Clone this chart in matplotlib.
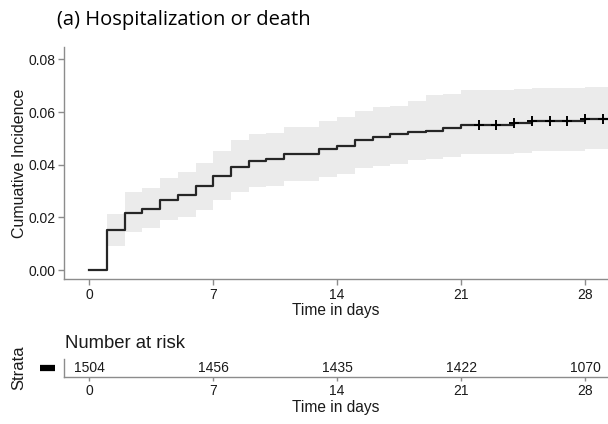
import numpy as np
import matplotlib
matplotlib.use("Agg")
import matplotlib.pyplot as plt

# ---- data ----
times = [0, 1, 2, 3, 4, 5, 6, 7, 8, 9, 10, 11, 13, 14, 15, 16, 17, 18, 19, 20, 21, 24, 25, 28, 30]
cuminc = [0.0, 0.0152, 0.0218, 0.0231, 0.0265, 0.0285, 0.0319, 0.0356, 0.0393, 0.0413, 0.0420,
          0.0440, 0.0460, 0.0473, 0.0495, 0.0507, 0.0515, 0.0525, 0.0530, 0.0538, 0.0552,
          0.0559, 0.0566, 0.0574, 0.0574]
ci_upper = [0.0, 0.0212, 0.0297, 0.0310, 0.0348, 0.0371, 0.0408, 0.0452, 0.0493, 0.0517, 0.0520,
            0.0544, 0.0566, 0.0581, 0.0603, 0.0619, 0.0624, 0.0642, 0.0664, 0.0670, 0.0685,
            0.0689, 0.0693, 0.0697, 0.0697]
ci_lower = [0.0, 0.0091, 0.0144, 0.0158, 0.0190, 0.0202, 0.0230, 0.0265, 0.0296, 0.0314, 0.0318,
            0.0337, 0.0354, 0.0363, 0.0386, 0.0394, 0.0404, 0.0417, 0.0420, 0.0430, 0.0439,
            0.0445, 0.0452, 0.0458, 0.0458]
censor_times = [22, 23, 24, 25, 26, 27, 28, 29]
risk_times = [0, 7, 14, 21, 28]
n_risk = [1504, 1456, 1435, 1422, 1070]
y_ticks = [0.00, 0.02, 0.04, 0.06, 0.08]

title = "(a) Hospitalization or death"
ylabel = "Cumuative Incidence"
xlabel = "Time in days"

plt.rcParams['font.family'] = ['Liberation Sans', 'DejaVu Sans']

W, H = 608, 424
fig = plt.figure(figsize=(W / 100, H / 100), dpi=100)

axis_col = '#8c8c8c'
text_col = '#1a1a1a'
xlim = (-1.43, 29.3)

# ---- main plot ----
ax = fig.add_axes([64 / W, 1 - 279.3 / H, (W - 64) / W, (279.3 - 47.3) / H])
t = np.array(times, dtype=float)
ax.fill_between(t[1:], np.array(ci_lower)[1:], np.array(ci_upper)[1:], step='post',
                color='#ebebeb', linewidth=0, zorder=1)
ax.step(t, cuminc, where='post', color='#262626', lw=1.6, zorder=3)
idx = np.searchsorted(t, censor_times, side='right') - 1
ax.plot(censor_times, np.array(cuminc)[idx], linestyle='none', marker='+',
        markersize=7.5, markeredgewidth=1.4, color='black', zorder=4)

ax.set_xlim(*xlim)
ax.set_ylim(-0.0035, 0.0846)
ax.set_xticks(risk_times)
ax.set_yticks(y_ticks)
ax.set_yticklabels([f"{v:.2f}" for v in y_ticks])
for s in ['top', 'right']:
    ax.spines[s].set_visible(False)
for s in ['left', 'bottom']:
    ax.spines[s].set_color(axis_col)
    ax.spines[s].set_linewidth(1.0)
ax.tick_params(axis='both', colors=axis_col, labelcolor=text_col, labelsize=10,
               length=4, width=1.0, pad=2)
ax.set_xlabel(xlabel, fontsize=11.2, color=text_col, labelpad=1)
ax.set_ylabel(ylabel, fontsize=11.5, color=text_col, labelpad=1)

fig.text(57 / W, 1 - 19.5 / H, title, fontsize=14.5, family=['Open Sans', 'DejaVu Sans'],
         color='black', ha='left', va='center')

# ---- risk table ----
rt = fig.add_axes([64 / W, 1 - 377.3 / H, (W - 64) / W, 18 / H])
rt.set_xlim(*xlim)
rt.set_ylim(-0.5, 0.5)
for x, n in zip(risk_times, n_risk):
    rt.text(x, 0, str(n), ha='center', va='center', fontsize=10, color=text_col)
rt.set_xticks(risk_times)
rt.set_yticks([])
for s in ['top', 'right']:
    rt.spines[s].set_visible(False)
for s in ['left', 'bottom']:
    rt.spines[s].set_color(axis_col)
    rt.spines[s].set_linewidth(1.0)
rt.tick_params(axis='x', colors=axis_col, labelcolor=text_col, labelsize=10,
               length=3, width=1.0, pad=2)
rt.set_xlabel(xlabel, fontsize=11.2, color=text_col, labelpad=1)
rt.plot([-0.044, -0.0165], [0.5, 0.5], transform=rt.transAxes, clip_on=False,
        color='black', lw=4.5, solid_capstyle='butt')
fig.text(65 / W, 1 - 343 / H, "Number at risk", fontsize=13.3, color=text_col,
         ha='left', va='center')
fig.text(18.3 / W, 1 - 368 / H, "Strata", rotation=90, fontsize=12, color=text_col,
         ha='center', va='center')

fig.savefig("out.png", dpi=100)
